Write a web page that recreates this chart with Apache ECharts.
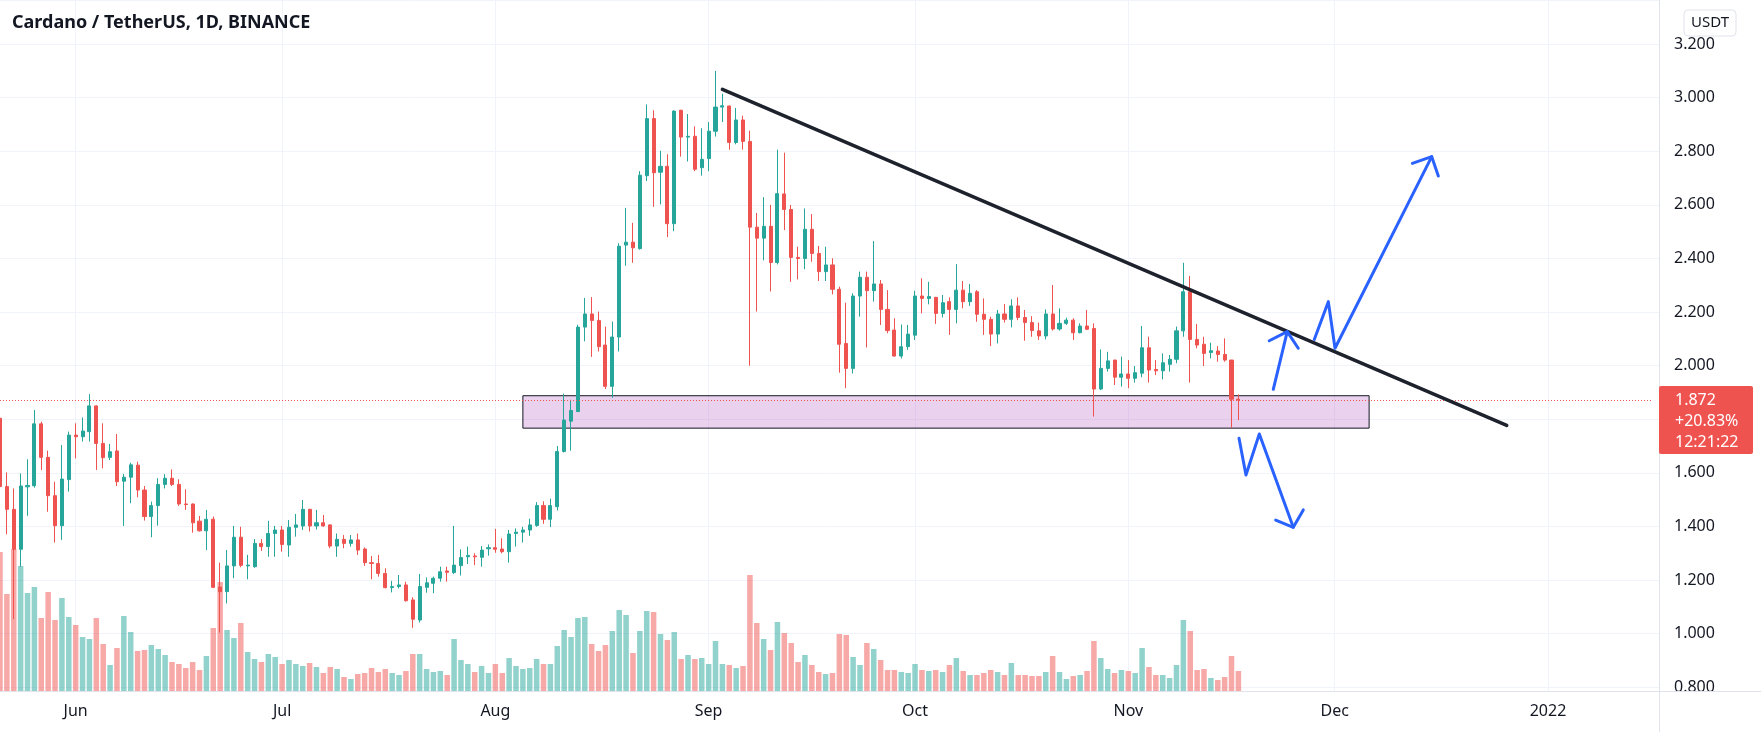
<!DOCTYPE html>
<html>
<head>
<meta charset="utf-8">
<title>Cardano / TetherUS, 1D, BINANCE</title>
<script src="https://cdn.jsdelivr.net/npm/echarts@6/dist/echarts.min.js"></script>
<style>
html, body { margin: 0; padding: 0; background: #ffffff; }
#chart { width: 1761px; height: 732px; }
</style>
</head>
<body>
<div id="chart"></div>
<script>
// daily candles from 2021-05-21 to 2021-11-17, axis runs on to mid January
const firstDay = [2021, 4, 21];
const dayCount = 241;
const monthTicks = ['Jun', 'Jul', 'Aug', 'Sep', 'Oct', 'Nov', 'Dec', '2022'];

const opens = [
  1.804,1.549,1.464,1.315,1.548,1.552,1.783,1.658,1.515,1.403,
  1.575,1.741,1.735,1.754,1.850,1.710,1.658,1.682,1.569,1.584,
  1.629,1.536,1.437,1.478,1.557,1.580,1.557,1.484,1.484,1.420,
  1.384,1.427,1.174,1.157,1.253,1.360,1.253,1.250,1.337,1.325,
  1.374,1.387,1.331,1.397,1.402,1.464,1.402,1.414,1.406,1.327,
  1.352,1.337,1.350,1.316,1.265,1.262,1.225,1.172,1.176,1.182,
  1.126,1.051,1.173,1.188,1.207,1.234,1.228,1.254,1.287,1.290,
  1.285,1.317,1.321,1.316,1.306,1.374,1.379,1.387,1.404,1.478,
  1.427,1.474,1.680,1.793,1.829,2.144,2.193,2.169,2.077,1.923,
  2.107,2.450,2.461,2.437,2.709,2.922,2.722,2.744,2.530,2.953,
  2.853,2.856,2.739,2.773,2.875,2.965,2.969,2.833,2.917,2.837,
  2.517,2.476,2.520,2.385,2.641,2.583,2.404,2.400,2.509,2.419,
  2.351,2.376,2.285,2.083,1.990,2.260,2.330,2.280,2.305,2.210,
  2.133,2.036,2.071,2.114,2.260,2.251,2.255,2.195,2.239,2.210,
  2.282,2.239,2.276,2.192,2.173,2.118,2.193,2.173,2.223,2.180,
  2.161,2.130,2.111,2.193,2.137,2.158,2.170,2.123,2.148,2.139,
  1.913,1.990,2.021,1.957,1.969,1.953,1.972,2.067,1.986,1.981,
  2.005,2.024,2.130,2.276,2.098,2.080,2.049,2.055,2.042,2.021,
  1.875
];
const closes = [
  1.549,1.464,1.315,1.551,1.553,1.783,1.658,1.515,1.403,1.577,
  1.741,1.735,1.756,1.850,1.710,1.657,1.679,1.567,1.584,1.630,
  1.536,1.437,1.478,1.557,1.580,1.557,1.484,1.482,1.414,1.384,
  1.427,1.173,1.157,1.253,1.360,1.255,1.256,1.337,1.325,1.374,
  1.387,1.333,1.397,1.406,1.464,1.402,1.414,1.402,1.327,1.352,
  1.337,1.350,1.312,1.265,1.262,1.225,1.172,1.176,1.182,1.123,
  1.054,1.176,1.190,1.207,1.231,1.229,1.256,1.284,1.292,1.287,
  1.312,1.321,1.315,1.306,1.372,1.379,1.387,1.406,1.478,1.427,
  1.478,1.680,1.797,1.833,2.144,2.193,2.169,2.071,1.923,2.107,
  2.446,2.461,2.440,2.711,2.922,2.720,2.744,2.530,2.950,2.853,
  2.856,2.733,2.770,2.875,2.965,2.970,2.833,2.917,2.837,2.517,
  2.476,2.520,2.385,2.642,2.583,2.404,2.400,2.509,2.419,2.351,
  2.376,2.285,2.080,1.990,2.260,2.330,2.280,2.305,2.210,2.131,
  2.036,2.071,2.118,2.260,2.251,2.258,2.195,2.235,2.210,2.282,
  2.239,2.270,2.192,2.173,2.118,2.193,2.173,2.223,2.180,2.161,
  2.131,2.111,2.193,2.137,2.158,2.170,2.123,2.148,2.136,1.913,
  1.990,2.018,1.957,1.969,1.953,1.974,2.067,1.984,1.981,2.011,
  2.024,2.130,2.276,2.098,2.077,2.046,2.056,2.042,2.021,1.875,
  1.872
];
const lows = [
  1.312,1.371,1.054,1.250,1.440,1.545,1.611,1.455,1.340,1.350,
  1.530,1.654,1.717,1.717,1.611,1.617,1.648,1.551,1.402,1.487,
  1.509,1.422,1.360,1.403,1.542,1.551,1.477,1.462,1.377,1.381,
  1.312,1.170,1.004,1.113,1.207,1.248,1.203,1.246,1.309,1.287,
  1.287,1.306,1.287,1.362,1.387,1.381,1.389,1.400,1.319,1.287,
  1.319,1.325,1.294,1.253,1.203,1.213,1.169,1.154,1.169,1.120,
  1.022,1.042,1.153,1.151,1.194,1.194,1.223,1.217,1.260,1.256,
  1.250,1.291,1.302,1.300,1.265,1.325,1.340,1.365,1.399,1.410,
  1.398,1.460,1.676,1.683,1.827,2.091,2.033,2.053,1.913,1.880,
  2.053,2.373,2.384,2.433,2.689,2.593,2.602,2.480,2.502,2.780,
  2.762,2.726,2.709,2.726,2.855,2.909,2.806,2.826,2.806,2.000,
  2.202,2.393,2.277,2.378,2.506,2.313,2.322,2.360,2.388,2.316,
  2.316,2.266,1.974,1.916,1.971,2.183,2.068,2.239,2.152,2.121,
  2.034,2.027,2.059,2.096,2.195,2.229,2.156,2.180,2.115,2.158,
  2.214,2.223,2.164,2.115,2.073,2.083,2.161,2.143,2.170,2.093,
  2.108,2.096,2.098,2.131,2.131,2.152,2.096,2.121,2.133,1.810,
  1.909,1.978,1.928,1.922,1.916,1.937,1.957,1.937,1.965,1.949,
  1.978,2.009,2.108,1.937,2.065,1.999,2.027,2.015,2.015,1.768,
  1.797
];
const highs = [
  1.878,1.602,1.542,1.598,1.651,1.835,1.791,1.683,1.567,1.704,
  1.754,1.785,1.807,1.894,1.852,1.785,1.708,1.745,1.596,1.638,
  1.642,1.551,1.493,1.580,1.595,1.613,1.576,1.539,1.486,1.439,
  1.462,1.437,1.265,1.312,1.402,1.399,1.294,1.353,1.353,1.421,
  1.402,1.402,1.424,1.447,1.499,1.466,1.462,1.443,1.408,1.374,
  1.368,1.368,1.374,1.322,1.290,1.294,1.244,1.197,1.219,1.194,
  1.136,1.223,1.210,1.213,1.250,1.250,1.402,1.315,1.325,1.300,
  1.327,1.333,1.391,1.356,1.387,1.393,1.399,1.429,1.491,1.494,
  1.504,1.700,1.896,1.873,2.153,2.253,2.256,2.202,2.146,2.165,
  2.457,2.589,2.533,2.726,2.975,2.953,2.802,2.789,2.953,2.955,
  2.939,2.893,2.886,2.909,3.100,3.015,2.971,2.962,2.933,2.877,
  2.570,2.629,2.600,2.806,2.795,2.600,2.444,2.587,2.566,2.447,
  2.444,2.401,2.295,2.235,2.270,2.351,2.351,2.465,2.320,2.282,
  2.177,2.154,2.152,2.280,2.326,2.313,2.257,2.264,2.255,2.379,
  2.316,2.305,2.282,2.251,2.183,2.208,2.230,2.248,2.255,2.208,
  2.185,2.161,2.210,2.301,2.214,2.179,2.177,2.158,2.208,2.158,
  2.061,2.052,2.022,2.034,2.021,1.999,2.148,2.108,2.021,2.046,
  2.040,2.146,2.384,2.335,2.156,2.108,2.086,2.073,2.102,2.022,
  1.893
];
const volumes = [
  139,97,142,125,98,104,73,99,71,93,
  74,66,54,52,73,47,26,43,75,59,
  40,41,46,42,36,29,27,23,29,21,
  35,63,109,61,53,68,39,32,29,37,
  34,27,31,27,25,28,24,18,24,22,
  14,12,17,18,23,19,22,18,16,20,
  37,37,22,19,20,16,52,31,27,19,
  25,18,27,18,33,25,22,23,32,27,
  27,45,61,54,73,74,47,40,46,60,
  81,76,38,60,80,79,57,51,59,32,
  36,32,33,27,50,27,26,23,25,116,
  68,52,41,69,58,48,29,36,26,19,
  17,18,57,56,34,26,48,42,31,21,
  21,19,18,27,21,20,21,19,26,33,
  20,16,16,18,21,19,16,28,16,16,
  15,15,19,35,19,12,15,16,20,50,
  33,22,18,21,20,18,43,24,16,16,
  13,26,71,60,21,22,13,11,14,35,
  20
];

// drawings, in (day index, price)
const supportZone = { from: 76, to: 199, top: 1.888, bottom: 1.767 };
const trendLine = [[105, 3.031], [219, 1.777]];
const arrowUpShort = [[185.07, 1.912], [187.10, 2.127]];
const arrowUpShortHead = [[184.49, 2.093], [187.10, 2.127], [188.70, 2.065]];
const arrowUpLong = [[191.03, 2.098], [193.07, 2.239], [194.04, 2.065], [208.10, 2.780]];
const arrowUpLongHead = [[205.28, 2.755], [208.10, 2.780], [209.06, 2.708]];
const arrowDown = [[180.09, 1.729], [181.10, 1.592], [183.04, 1.745], [187.98, 1.397]];
const arrowDownHead = [[185.42, 1.424], [187.98, 1.397], [189.43, 1.462]];

const upColor = '#26a69a';
const downColor = '#ef5350';
const textColor = '#131722';
const gridColor = '#f0f3fa';
const font = 'Noto Sans';

const categories = [];
for (let i = 0; i < dayCount; i++) {
  let d = new Date(Date.UTC(firstDay[0], firstDay[1], firstDay[2] + i));
  categories.push(d.toISOString().slice(0, 10));
}
const monthStarts = categories.filter(function (d) { return d.slice(8) === '01'; });
const isMonthStart = function (idx, val) { return val.slice(8) === '01'; };

const candleData = opens.map(function (o, i) { return [o, closes[i], lows[i], highs[i]]; });
const volumeData = volumes.map(function (v, i) {
  return {
    value: v,
    itemStyle: { color: closes[i] >= opens[i] ? 'rgba(38,166,154,0.5)' : 'rgba(239,83,80,0.5)' }
  };
});
const lastClose = closes[closes.length - 1];

const priceMin = 0.8, priceMax = 3.3646;
const chart = echarts.init(document.getElementById('chart'));

function drawing(coords, color, width) {
  return { coords: coords, lineStyle: { color: color, width: width, opacity: 1, cap: 'round', join: 'round' } };
}
const blue = '#2962ff';

chart.setOption({
  animation: false,
  backgroundColor: '#ffffff',
  title: {
    text: 'Cardano / TetherUS, 1D, BINANCE',
    left: 12, top: 14, padding: 0,
    textStyle: { fontFamily: font, fontSize: 18, fontWeight: 'bold', color: textColor }
  },
  grid: [
    { left: 0, right: 109.8, top: 0, bottom: 44.7 },   // candles
    { left: 0, right: 109.8, top: 0, bottom: 41 },     // volume
    { left: 0, right: 102, top: 0, bottom: 44.7 }      // price scale
  ],
  xAxis: [
    { type: 'category', gridIndex: 0, data: categories, boundaryGap: false, show: false },
    {
      type: 'category', gridIndex: 1, data: categories, boundaryGap: false,
      axisLine: { show: false }, axisTick: { show: false },
      axisLabel: {
        interval: isMonthStart, margin: 12, color: textColor, fontFamily: font, fontSize: 16,
        formatter: function (v) { return monthTicks[monthStarts.indexOf(v)]; }
      },
      splitLine: { show: true, interval: isMonthStart, lineStyle: { color: gridColor, width: 1 } }
    },
    { type: 'value', gridIndex: 0, min: 0, max: dayCount - 1, show: false },
    { type: 'value', gridIndex: 2, show: false }
  ],
  yAxis: [
    { type: 'value', gridIndex: 0, min: priceMin, max: priceMax, show: false },
    { type: 'value', gridIndex: 1, min: 0, max: 691, show: false },
    {
      type: 'value', gridIndex: 2, position: 'right', min: priceMin, max: priceMax, interval: 0.2,
      axisLine: { show: false }, axisTick: { show: false },
      axisLabel: {
        showMaxLabel: false, margin: 15, color: textColor, fontFamily: font, fontSize: 16,
        formatter: function (v) { return v.toFixed(3); }
      },
      splitLine: { show: true, lineStyle: { color: gridColor, width: 1 } }
    }
  ],
  series: [
    {
      type: 'bar', name: 'Volume', xAxisIndex: 1, yAxisIndex: 1,
      data: volumeData, barWidth: '80%', silent: true
    },
    {
      type: 'candlestick', name: 'ADAUSDT', xAxisIndex: 0, yAxisIndex: 0,
      data: candleData, barWidth: 3.6,
      itemStyle: { color: upColor, color0: downColor, borderColor: upColor, borderColor0: downColor, borderWidth: 1 },
      markArea: {
        silent: true,
        itemStyle: { color: 'rgba(186,104,200,0.3)', borderColor: textColor, borderWidth: 1 },
        data: [[
          { coord: [categories[supportZone.from], supportZone.top] },
          { coord: [categories[supportZone.to], supportZone.bottom] }
        ]]
      },
      markLine: {
        silent: true, symbol: ['none', 'none'], label: { show: false },
        lineStyle: { color: downColor, type: [1, 2], width: 1 },
        data: [{ yAxis: lastClose }]
      }
    },
    {
      type: 'lines', coordinateSystem: 'cartesian2d', xAxisIndex: 2, yAxisIndex: 0,
      polyline: true, silent: true, z: 5,
      lineStyle: { opacity: 1 },
      data: [
        drawing(trendLine, '#1e222d', 3.5),
        drawing(arrowUpShort, blue, 3),
        drawing(arrowUpShortHead, blue, 3),
        drawing(arrowUpLong, blue, 3),
        drawing(arrowUpLongHead, blue, 3),
        drawing(arrowDown, blue, 3),
        drawing(arrowDownHead, blue, 3)
      ]
    }
  ]
});

// frame, unit button and the last price tag
const py = chart.convertToPixel({ yAxisIndex: 0 }, lastClose);
chart.setOption({
  graphic: [
    { type: 'rect', z: 100, shape: { x: 1659, y: 691, width: 102, height: 41 }, style: { fill: '#ffffff' } },
    { type: 'line', z: 101, shape: { x1: 1659.5, y1: 0, x2: 1659.5, y2: 732 }, style: { stroke: '#e0e3eb', lineWidth: 1 } },
    { type: 'line', z: 101, shape: { x1: 0, y1: 691.5, x2: 1761, y2: 691.5 }, style: { stroke: '#e0e3eb', lineWidth: 1 } },
    { type: 'rect', z: 102, shape: { x: 1684, y: 10, width: 52, height: 26, r: 4 }, style: { fill: '#ffffff', stroke: '#e0e3eb', lineWidth: 1 } },
    { type: 'text', z: 103, x: 1710, y: 23, style: { text: 'USDT', fill: textColor, font: '15px "Noto Sans"', align: 'center', verticalAlign: 'middle' } },
    { type: 'rect', z: 102, shape: { x: 1659, y: py - 14, width: 94, height: 68, r: 2 }, style: { fill: downColor } },
    {
      type: 'text', z: 103, x: 1675, y: py - 10.5,
      style: { text: lastClose.toFixed(3) + '\n+20.83%\n12:21:22', fill: '#ffffff', font: '16px "Noto Sans"', lineHeight: 21, align: 'left', verticalAlign: 'top' }
    }
  ]
});
</script>
</body>
</html>
